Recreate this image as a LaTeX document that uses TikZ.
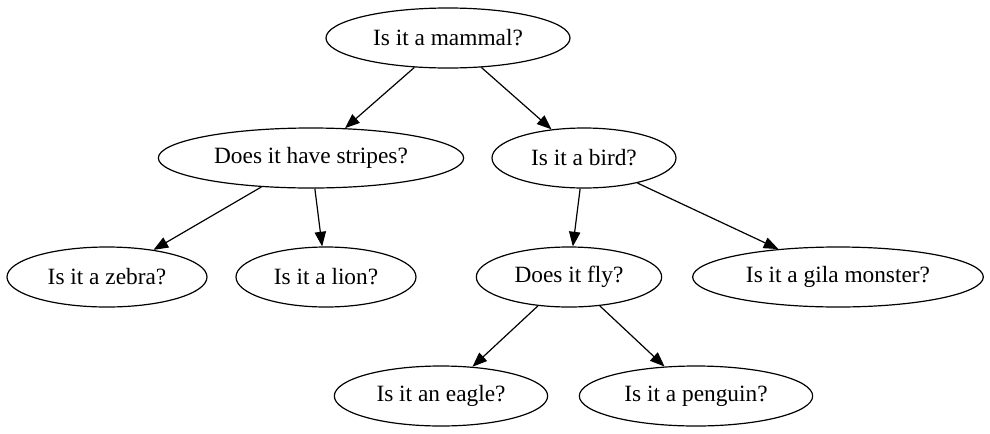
\documentclass[tikz,border=0pt]{standalone}
\usepackage{fontspec}
\setmainfont{Liberation Serif}
\usetikzlibrary{arrows.meta,shapes.geometric}

\begin{document}
\begin{tikzpicture}[x=0.75pt,y=-0.75pt,line width=0.9pt,
  question/.style={ellipse,draw,inner sep=0pt,minimum height=45pt,font=\fontsize{17.5}{20}\selectfont},
  edge/.style={-{Triangle[length=11pt,width=8.5pt]}}]
\useasboundingbox (0,0) rectangle (990,433);
\node[question,minimum width=183pt](mammal)at(448,38){Is it a mammal?};
\node[question,minimum width=229pt](stripes)at(311,158){Does it have stripes?};
\node[question,minimum width=138pt](bird)at(584,158){Is it a bird?};
\node[question,minimum width=150pt](zebra)at(107,277){Is it a zebra?};
\node[question,minimum width=135pt](lion)at(326,277){Is it a lion?};
\node[question,minimum width=139pt](fly)at(569,277){Does it fly?};
\node[question,minimum width=218pt](gila)at(838,277){Is it a gila monster?};
\node[question,minimum width=160pt](eagle)at(441,396){Is it an eagle?};
\node[question,minimum width=175pt](penguin)at(696,396){Is it a penguin?};
\draw[edge](mammal)--(stripes);
\draw[edge](mammal)--(bird);
\draw[edge](stripes)--(zebra);
\draw[edge](stripes)--(lion);
\draw[edge](bird)--(fly);
\draw[edge](bird)--(gila);
\draw[edge](fly)--(eagle);
\draw[edge](fly)--(penguin);
\end{tikzpicture}
\end{document}
